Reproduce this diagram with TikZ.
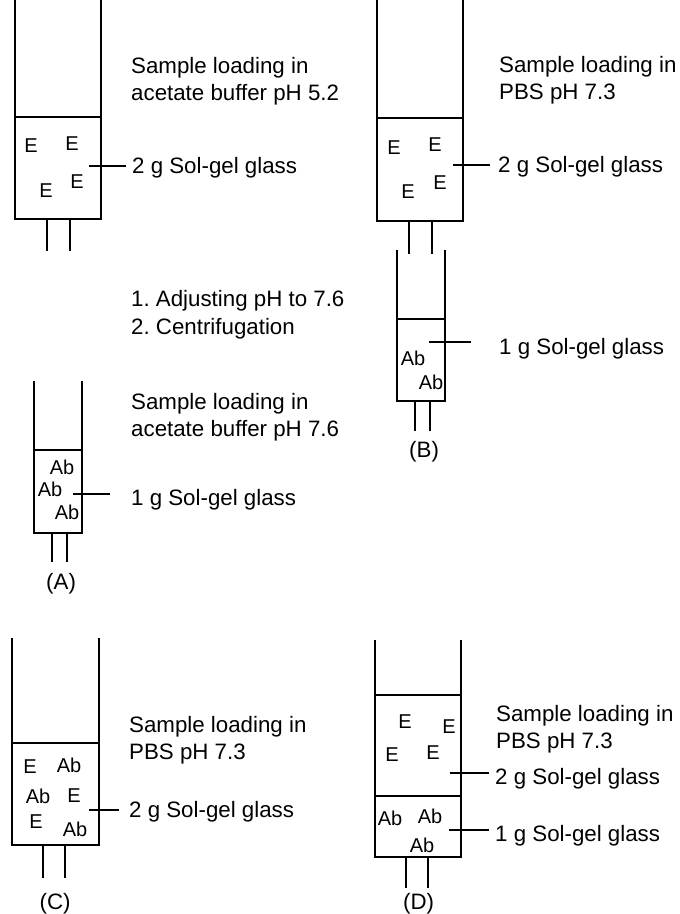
\documentclass[tikz,border=0pt]{standalone}
\usepackage{fontspec}
\setmainfont{Liberation Sans}
\frenchspacing
\usetikzlibrary{positioning}
\tikzset{
  lbl/.style={anchor=west, font=\fontsize{22.3}{27.5}\selectfont, align=left, inner sep=0pt},
  let/.style={font=\fontsize{20}{22}\selectfont, inner sep=0pt},
  wall/.style={line width=1.3pt},
  lead/.style={line width=1.3pt, shorten >=6pt}
}
% one column: body box, open walls above, stub pipes below
\newcommand{\column}[8]{% x-left, x-right, y-top of walls, y-box top, y-box bottom, stub left, stub right, stub bottom
  \draw[wall] (#1,#3) -- (#1,#5) -- (#2,#5) -- (#2,#3);
  \draw[wall] (#1,#4) -- (#2,#4);
  \draw[wall] (#6,#5) -- (#6,#8);
  \draw[wall] (#7,#5) -- (#7,#8);
}
\begin{document}
\begin{tikzpicture}[x=1pt, y=-1pt]
\useasboundingbox (0,0) rectangle (680,914);
% panel A
\column{15}{101}{0}{117}{219}{47}{70}{251}
\node[let] (e1) at (31,146) {E};
\node[let] (e2) at (72,144) {E};
\node[let] (e3) at (46,191) {E};
\node[let] (e4) at (77,182) {E};
\coordinate (a1) at (89,166);
\node[lbl] (a1t) at (132,168) {2 g Sol-gel glass};
\draw[lead] (a1) -- (a1 -| a1t.west);
\node[lbl] (a2) at (131,81) {Sample loading in\\acetate buffer pH 5.2};
\node[lbl] (a3) at (131,314.5) {1. Adjusting pH to 7.6\\2. Centrifugation};
\column{34}{82}{381}{450}{533}{52}{67}{562}
\node[let] (ab1) at (62,467) {Ab};
\node[let] (ab2) at (50,489) {Ab};
\node[let] (ab3) at (67,512) {Ab};
\coordinate (a4) at (73,494);
\coordinate (a5) at (110,494);
\node[lbl] (a4t) at (131,500) {1 g Sol-gel glass};
\draw[wall] (a4) -- (a5);
\node[lbl] (a6) at (131,417) {Sample loading in\\acetate buffer pH 7.6};
\node[lbl] (capa) at (46,584) {(A)};
% panel B
\column{377}{463}{0}{118}{221}{409}{432}{254}
\node[let] (e5) at (394,148) {E};
\node[let] (e6) at (435,145) {E};
\node[let] (e7) at (408,192) {E};
\node[let] (e8) at (440,183) {E};
\coordinate (b1) at (453,165);
\node[lbl] (b1t) at (498,167) {2 g Sol-gel glass};
\draw[wall, shorten >=8pt] (b1) -- (b1 -| b1t.west);
\node[lbl] (b2) at (499,80) {Sample loading in\\PBS pH 7.3};
\column{397}{445}{250}{319}{401}{415}{430}{431}
\node[let] (ab4) at (413,358) {Ab};
\node[let] (ab5) at (431,382) {Ab};
\coordinate (b3) at (429,342);
\coordinate (b4) at (471,342);
\node[lbl] (b3t) at (499,349) {1 g Sol-gel glass};
\draw[wall] (b3) -- (b4);
\node[lbl] (capb) at (409,452) {(B)};
% panel C
\column{12}{99}{638}{743}{845}{43}{65}{878}
\node[let] (e9) at (30,767) {E};
\node[let] (ab6) at (69,765) {Ab};
\node[let] (ab7) at (38,796) {Ab};
\node[let] (e10) at (74,796) {E};
\node[let] (e11) at (36,822) {E};
\node[let] (ab8) at (75,829) {Ab};
\coordinate (c1) at (89,810);
\node[lbl] (c1t) at (129,812) {2 g Sol-gel glass};
\draw[wall, shorten >=10pt] (c1) -- (c1 -| c1t.west);
\node[lbl] (c2) at (129,740) {Sample loading in\\PBS pH 7.3};
\node[lbl] (capc) at (39.5,903.5) {(C)};
% panel D
\column{375}{461}{640}{695}{857}{406}{428}{888}
\draw[line width=2pt] (375,796) -- (461,796);
\node[let] (e12) at (405,722) {E};
\node[let] (e13) at (449,727) {E};
\node[let] (e14) at (392,755) {E};
\node[let] (e15) at (433,753) {E};
\node[let] (ab9) at (390,818) {Ab};
\node[let] (ab10) at (430,816) {Ab};
\node[let] (ab11) at (422,845) {Ab};
\coordinate (d1) at (450,773);
\node[lbl] (d1t) at (495,779) {2 g Sol-gel glass};
\draw[lead] (d1) -- (d1 -| d1t.west);
\coordinate (d2) at (449,830);
\node[lbl] (d2t) at (495,836) {1 g Sol-gel glass};
\draw[lead] (d2) -- (d2 -| d2t.west);
\node[lbl] (d3) at (496,729) {Sample loading in\\PBS pH 7.3};
\node[lbl] (capd) at (403,903.5) {(D)};
\end{tikzpicture}
\end{document}
